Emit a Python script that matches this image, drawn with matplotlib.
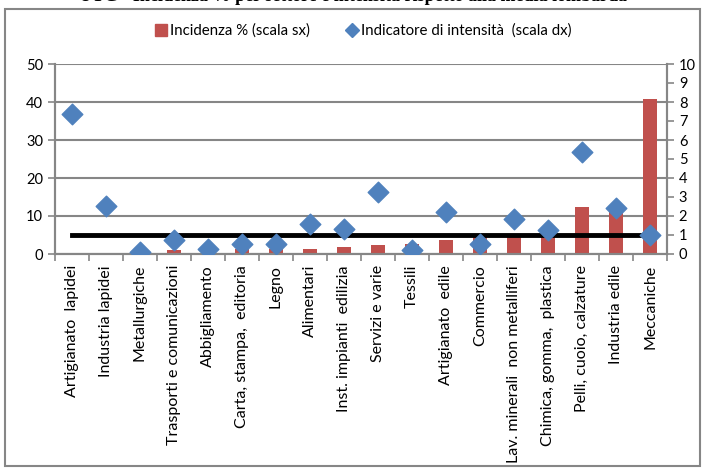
import numpy as np
import matplotlib.pyplot as plt
from matplotlib.patches import Rectangle

plt.rcParams['font.family'] = ['Lato', 'DejaVu Sans']

settori = ['Artigianato  lapidei', 'Industria lapidei', 'Metallurgiche',
           'Trasporti e comunicazioni', 'Abbigliamento', 'Carta, stampa,  editoria',
           'Legno', 'Alimentari', 'Inst. impianti  edilizia', 'Servizi e varie',
           'Tessili', 'Artigianato  edile', 'Commercio',
           'Lav. minerali  non metalliferi', 'Chimica, gomma,  plastica',
           'Pelli, cuoio, calzature', 'Industria edile', 'Meccaniche']
incidenza = [0.3, 0.3, 0.4, 1.05, 1.0, 1.2, 1.3, 1.3, 1.9, 2.3,
             2.7, 3.6, 4.5, 4.9, 5.5, 12.3, 12.2, 40.9]
intensita = [7.37, 2.5, 0.1, 0.72, 0.28, 0.5, 0.5, 1.6, 1.33, 3.28,
             0.23, 2.2, 0.53, 1.86, 1.28, 5.37, 2.44, 0.98]
media = [1.0] * len(settori)

red = '#C0504D'
blue = '#4F81BD'
grey = '#868686'

fig = plt.figure(figsize=(7.06, 4.68), dpi=100)
ax = fig.add_axes([55 / 706, 1 - 254 / 468, 612 / 706, 190 / 468])
ax2 = ax.twinx()

x = np.arange(len(settori))
ax.bar(x, incidenza, width=0.4, color=red, zorder=2)
ax.set_ylim(0, 50)
ax.set_yticks(range(0, 51, 10))
ax.set_xlim(-0.5, len(settori) - 0.5)
ax.grid(axis='y', color=grey, linewidth=1.5, zorder=0)
ax.set_axisbelow(True)

ax2.plot(x, media, color='black', linewidth=3.5, zorder=3)
ax2.scatter(x, intensita, marker='D', s=110, color=blue, zorder=4)
ax2.set_ylim(0, 10)
ax2.set_yticks(range(0, 11))

ax.set_xticks(x)
ax.set_xticklabels(settori, rotation=90, fontsize=11.5)
ax.set_xticks(np.arange(-0.5, len(settori)), minor=True)
ax.tick_params(axis='x', which='major', length=0, pad=8)
ax.tick_params(axis='x', which='minor', length=5, color=grey, width=1.2, direction='out')
ax.tick_params(axis='y', length=5, color=grey, width=1.2, labelsize=10.5)
ax2.tick_params(axis='y', length=5, color=grey, width=1.2, labelsize=10.5)

for a in (ax, ax2):
    for s in a.spines.values():
        s.set_color(grey)
        s.set_linewidth(1.5)
ax.spines['top'].set_visible(False)
ax2.spines['top'].set_visible(False)

# legend
h1 = plt.Line2D([], [], marker='s', linestyle='none', color=red, markersize=8)
h2 = plt.Line2D([], [], marker='D', linestyle='none', color=blue, markersize=7)
fig.legend([h1, h2], ['Incidenza % (scala sx)', 'Indicatore di intensità  (scala dx)'],
           loc='center', bbox_to_anchor=(0.513, 1 - 31 / 468), ncol=2, frameon=False,
           fontsize=10.8, handletextpad=0.1, columnspacing=2.3, handlelength=1)

# cornice esterna e titolo tagliato
fig.patches.append(Rectangle((5 / 706, 2 / 468), 695 / 706, 457 / 468,
                             transform=fig.transFigure, fill=False,
                             edgecolor=grey, linewidth=1.5))
fig.text(0.5, 1.008, 'UTG - Incidenza % per settore e intensità rispetto alla media lombarda',
         ha='center', va='center', fontsize=13, fontweight='bold',
         family='Liberation Serif')

fig.savefig('out.png', dpi=100)
